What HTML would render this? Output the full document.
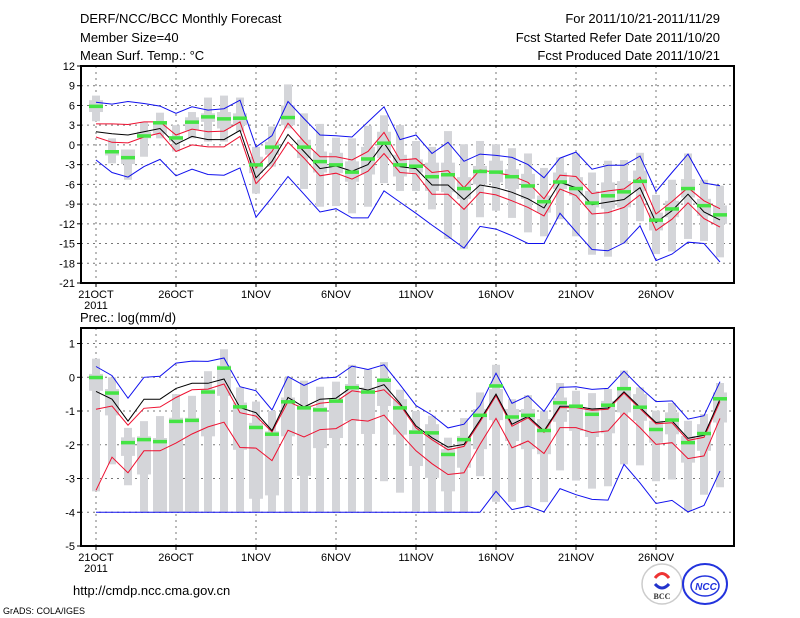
<!DOCTYPE html>
<html><head><meta charset="utf-8"><style>
html,body{margin:0;padding:0;background:#fff;}
svg{display:block;font-family:"Liberation Sans",sans-serif;}
</style></head><body>
<svg id="chart" width="800" height="618" viewBox="0 0 800 618" xmlns="http://www.w3.org/2000/svg">
<g font-size="13" fill="#000">
<text x="80" y="23">DERF/NCC/BCC Monthly Forecast</text>
<text x="80" y="42">Member Size=40</text>
<text x="80" y="60">Mean Surf. Temp.: °C</text>
<text x="720" y="23" text-anchor="end">For 2011/10/21-2011/11/29</text>
<text x="720" y="42" text-anchor="end">Fcst Started Refer Date 2011/10/20</text>
<text x="720" y="60" text-anchor="end">Fcst Produced Date 2011/10/21</text>
<text x="80" y="322">Prec.: log(mm/d)</text>
</g>
<g id="p1"></g>
<g id="p2"></g>
<text x="73" y="595" font-size="13">http://cmdp.ncc.cma.gov.cn</text>
<text x="3" y="614" font-size="9">GrADS: COLA/IGES</text>
<g>
<circle cx="662" cy="584" r="20" fill="#fff" stroke="#ccc" stroke-width="1.5"/>
<path d="M655 578 q7 -9 14 0" fill="none" stroke="#e33" stroke-width="3"/>
<path d="M655 584 q7 8 14 0" fill="none" stroke="#23c" stroke-width="3"/>
<text x="662" y="599" font-size="8" font-weight="bold" text-anchor="middle" fill="#333" font-family="Liberation Serif,serif">BCC</text>
</g>
<g>
<ellipse cx="705" cy="584" rx="22" ry="20" fill="#fff" stroke="#23d" stroke-width="2"/>
<ellipse cx="705" cy="586" rx="14" ry="10" fill="none" stroke="#23d" stroke-width="1.5"/>
<text x="706" y="590" font-size="10" font-weight="bold" font-style="italic" text-anchor="middle" fill="#23d">NCC</text>
</g>
</svg>
<script>
// ---- temperature data (40 days, 21OCT..29NOV)
const dayLabels=["21OCT","26OCT","1NOV","6NOV","11NOV","16NOV","21NOV","26NOV"];
const tBlueMax=[6.5,6.2,6.6,6.3,5.9,4.8,5.8,5.3,5.5,6.8,-0.3,1.4,6.6,4,1.5,1.4,1.2,3.5,5.8,0.8,1.5,-1.3,0.4,-2.5,-1.4,-1.6,-1.9,-3,-5,-2,-1.1,-3.7,-3.1,-3.1,-1.7,-7.1,-4.2,-1.4,-5.8,-6.2];
const tBlueMin=[-2.3,-4.2,-4.9,-3.3,-2.2,-4.7,-3.7,-4.5,-4.6,-3.5,-11,-8,-4.8,-7.5,-10.2,-9.7,-11.1,-11.1,-7,-8.7,-10.4,-12.2,-13.9,-15.7,-12.4,-12.8,-13.8,-15,-15,-10.4,-13.2,-15.9,-16.1,-14.9,-12.3,-17.6,-16.6,-14.8,-15,-17.8];
const tRedUp=[3.2,3.2,3.1,3.5,3.5,1.5,2.4,2.0,2.1,3.5,-3.5,-1,3.3,0.5,-1.8,-1.8,-2.3,-1,1.9,-2.3,-2.1,-4.2,-3.9,-6.5,-3.8,-4.2,-4.7,-5.7,-8.2,-4.6,-4.8,-7.4,-7,-6.7,-4.9,-10.5,-8.6,-6.5,-8.5,-9.7];
const tMean=[2.0,1.7,1.5,2.0,2.5,0.1,1.3,0.8,0.8,2.2,-5,-2.5,1.6,-1,-3.6,-3.2,-4,-3,0.3,-3.3,-3.6,-6.1,-6.1,-8.3,-6.1,-6.5,-7.2,-8.2,-9.6,-5.7,-6.5,-9.1,-8.7,-8.3,-6.5,-11.8,-10,-7.5,-10.2,-11.4];
const tRedLo=[1.2,0.4,0.3,1.2,1.8,-1,0,-0.3,-0.3,1.3,-5.9,-3.3,0.4,-2,-4.7,-4.3,-5.2,-4,-1.3,-4.2,-4.4,-7.5,-7.5,-9.8,-7.2,-7.6,-8.5,-9.5,-10.8,-6.7,-7.7,-10.5,-10.3,-9.5,-7.6,-13,-11.3,-8.8,-11.2,-12.5];
const tGreen=[5.9,-1,-1.9,1.4,3.4,1.1,3.5,4.3,4.0,4.1,-3,-0.3,4.2,-0.3,-2.5,-3,-4.1,-2.1,0.3,-3,-3.2,-4.8,-4.5,-6.6,-4,-4.1,-4.8,-6.2,-8.6,-5.6,-6.6,-8.8,-7.7,-7.1,-5.5,-11.4,-9.7,-6.6,-9.2,-10.6];
const tMax=[7.5,1.0,-0.7,3.5,4.9,3,5,7.2,7.5,7.2,-0.3,2.8,9.2,4.8,3.2,1.1,1.0,2.9,4.5,3,0.6,-0.3,2.1,0.1,0.6,0.1,-0.5,-1.3,-3.5,-1.9,-1.3,-4.2,-2.4,-2.3,-1.2,-7.6,-5.3,-1.3,-5.3,-6.2];
const tMin=[3.6,-2.8,-5.3,-1.8,1.0,-1,1,0.5,0.5,2,-7.4,-3.3,2.5,-6.7,-9.4,-9.3,-10.4,-9.4,-5.8,-7,-7,-9.8,-14.3,-15.8,-11,-10,-11.1,-13.3,-13.9,-11.3,-13.9,-16.7,-17,-15,-11.6,-16.6,-16.2,-14.3,-14.6,-17.1];
const tQ3=[6.8,-0.9,-0.7,2.0,3.5,1.3,4.2,4.8,5,4.8,-1.8,0.5,6,0.8,-1,-1.2,-2.5,-0.3,2,-1.5,-2.2,-2.7,-2.7,-4.9,-3.2,-2.4,-3.7,-4.4,-7.7,-4.2,-4.9,-7,-5.7,-5.5,-3.9,-10.3,-8.5,-5.2,-8.2,-9.2];
const tQ1=[5,-1.6,-2.9,1.0,1.7,0.5,2.2,3.5,2.5,3,-4.3,-1.5,3,-2,-4.2,-4.3,-5.6,-4.5,-2,-4.8,-4.2,-7,-7.2,-8.2,-6,-5.7,-6.7,-8.2,-10.3,-6.7,-7.7,-9.5,-9.7,-9.5,-7,-13,-11,-8,-10.8,-12];
const tTicks=[12,9,6,3,0,-3,-6,-9,-12,-15,-18,-21];
// ---- precipitation data
const pBlueMax=[0.32,0.05,-0.62,0,0.03,0.42,0.48,0.47,0.57,-0.28,-0.4,-0.97,0.02,-0.24,-0.03,0,0.33,0.23,0.37,-0.22,-0.84,-1.12,-1.5,-1.39,-0.84,0.12,-0.77,-0.55,-1.01,-0.3,-0.28,-0.36,-0.33,0.18,-0.3,-0.72,-0.7,-1.24,-1.14,-0.13];
const pBlueMin=[-4,-4,-4,-4,-4,-4,-4,-4,-4,-4,-4,-4,-4,-4,-4,-4,-4,-4,-4,-4,-4,-4,-4,-4,-4,-3.38,-3.92,-3.82,-3.99,-3.3,-3.48,-3.62,-3.64,-2.58,-3.13,-3.74,-3.65,-3.99,-3.8,-2.78];
const pRedUp=[-0.95,-0.85,-1.42,-0.92,-0.88,-0.6,-0.37,-0.35,-0.2,-1.05,-1.15,-1.62,-0.72,-0.93,-0.77,-0.72,-0.4,-0.47,-0.37,-0.82,-1.5,-1.85,-2.15,-2.05,-1.32,-0.55,-1.45,-1.2,-1.63,-0.9,-0.9,-0.98,-0.95,-0.47,-0.93,-1.38,-1.35,-1.87,-1.78,-0.72];
const pMean=[-0.42,-0.65,-1.3,-0.65,-0.65,-0.33,-0.18,-0.18,-0.05,-0.9,-1.05,-1.58,-0.6,-0.88,-0.65,-0.62,-0.28,-0.38,-0.22,-0.77,-1.44,-1.79,-2.07,-1.99,-1.27,-0.5,-1.39,-1.16,-1.59,-0.86,-0.86,-0.94,-0.91,-0.43,-0.89,-1.34,-1.29,-1.81,-1.72,-0.65];
const pRedLo=[-3.35,-2.37,-2.83,-2.18,-2.18,-1.95,-1.68,-1.47,-1.33,-2.08,-2.1,-2.47,-1.57,-1.77,-1.55,-1.52,-1.25,-1.3,-1.12,-1.66,-2.18,-2.56,-2.88,-2.83,-1.99,-1.22,-2.09,-1.89,-2.26,-1.49,-1.49,-1.64,-1.59,-1.06,-1.49,-1.99,-1.94,-2.41,-2.33,-1.22];
const pGreen=[0,-0.46,-1.93,-1.84,-1.9,-1.3,-1.27,-0.43,0.28,-0.87,-1.48,-1.68,-0.72,-0.9,-0.96,-0.7,-0.3,-0.43,-0.08,-0.9,-1.62,-1.64,-2.28,-1.84,-1.12,-0.25,-1.17,-1.12,-1.57,-0.75,-0.85,-1.09,-0.82,-0.33,-0.88,-1.54,-1.26,-1.93,-1.66,-0.63];
const pMax=[0.55,0,-1.5,-1.3,-1.15,-0.5,-0.55,0.18,0.83,-0.3,-0.72,-1.0,0,-0.1,-0.28,-0.13,0.37,0.23,0.45,-0.37,-1.0,-1.14,-1.79,-1.21,-0.45,0.37,-0.65,-0.53,-0.99,-0.17,-0.4,-0.47,-0.35,0.2,-0.3,-0.99,-0.76,-1.29,-1.09,-0.17];
const pMin=[-3.38,-2.58,-3.2,-4,-4,-4,-4,-4,-4,-4,-4,-4,-4,-4,-4,-4,-4,-4,-3.08,-3.42,-3.97,-4,-4,-4,-2.93,-3.69,-3.69,-3.82,-3.7,-2.76,-3.06,-3.3,-3.23,-2.58,-2.61,-3.08,-3.03,-3.97,-3.48,-3.26];
const pQ3=[0.1,-0.35,-1.78,-1.75,-1.8,-1.2,-1.2,-0.35,0.35,-0.75,-1.35,-1.6,-0.6,-0.82,-0.88,-0.62,-0.2,-0.3,-0.05,-0.65,-1.56,-1.39,-2.13,-1.74,-0.94,-0.35,-0.94,-0.94,-1.24,-0.6,-0.89,-0.94,-0.7,-0.35,-0.5,-1.29,-1.04,-1.74,-1.39,-0.45];
const pQ1=[-0.4,-1.13,-2.33,-2.88,-4,-4,-4,-1.75,-0.55,-2.15,-3.6,-3.5,-1.75,-2.92,-2.1,-1.8,-1.3,-1.68,-0.85,-1.7,-2.63,-2.98,-3.38,-2.68,-2.13,-1.27,-1.89,-2.13,-2.28,-1.32,-1.59,-1.77,-1.66,-1.04,-1.29,-1.94,-1.69,-2.53,-2.18,-1.34];
const pTicks=[1,0,-1,-2,-3,-4,-5];

const NS="http://www.w3.org/2000/svg";
function mk(parent,tag,attrs){const e=document.createElementNS(NS,tag);for(const k in attrs)e.setAttribute(k,attrs[k]);parent.appendChild(e);return e;}
const X0=81,X1=734;
function xDay(i){return 96+16*i;}

function panel(g,top,bot,vmax,vmin,ticks,S){
  const y=v=>top+(vmax-v)/(vmax-vmin)*(bot-top);
  // grid
  ticks.forEach(t=>{
    if(t<vmax&&t>vmin){const l=mk(g,'line',{x1:X0,x2:X1,y1:y(t),y2:y(t),stroke:'#777','stroke-width':1,'stroke-dasharray':'2,4'});
    
    }
    const tx=mk(g,'text',{x:75,y:y(t)+4,'font-size':11,'text-anchor':'end'});tx.textContent=t;
    
    
    mk(g,'line',{x1:X0-4,x2:X0,y1:y(t),y2:y(t),stroke:'#000'});
  });
  dayLabels.forEach((d,k)=>{
    const xx=xDay(k*5);
    const l=mk(g,'line',{x1:xx,x2:xx,y1:top,y2:bot,stroke:'#777','stroke-width':1,'stroke-dasharray':'2,4'});
    
    
    mk(g,'line',{x1:xx,x2:xx,y1:bot,y2:bot+4,stroke:'#000'});
    const tx=mk(g,'text',{x:xx,y:bot+15,'font-size':11,'text-anchor':'middle'});tx.textContent=d;
    
    
  });
  const yr=mk(g,'text',{x:96,y:bot+26,'font-size':11,'text-anchor':'middle'});yr.textContent='2011';
  
  
  // boxes
  for(let i=0;i<40;i++){
    const xx=xDay(i);
    const w=mk(g,'rect',{x:xx-4,y:y(S.max[i]),width:8,height:Math.max(1,y(S.min[i])-y(S.max[i])),fill:'#d4d5d9'});
    
    
    const b=mk(g,'rect',{x:xx-7,y:y(S.q3[i]),width:14,height:Math.max(1,y(S.q1[i])-y(S.q3[i])),fill:'#d4d5d9'});
    
    
  }
  const line=(arr,col,name)=>{
    const p=mk(g,'polyline',{points:arr.map((v,i)=>xDay(i)+','+y(v).toFixed(1)).join(' '),fill:'none',stroke:col,'stroke-width':1});
    
    
  };
  line(S.bmax,'#1010ee','max-line');line(S.bmin,'#1010ee','min-line');
  line(S.rup,'#ee1030','upper-line');line(S.rlo,'#ee1030','lower-line');
  line(S.mean,'#000','mean-line');
  for(let i=0;i<40;i++){
    const r=mk(g,'rect',{x:xDay(i)-7,y:y(S.green[i])-1.5,width:14,height:3.5,fill:'#44e444'});
    
    
  }
  const f=mk(g,'rect',{x:X0,y:top,width:X1-X0,height:bot-top,fill:'none',stroke:'#000','stroke-width':2});
  
  
}
panel(document.getElementById('p1'),66,283,12,-21,tTicks,{bmax:tBlueMax,bmin:tBlueMin,rup:tRedUp,rlo:tRedLo,mean:tMean,green:tGreen,max:tMax,min:tMin,q3:tQ3,q1:tQ1});
panel(document.getElementById('p2'),328,546,1.46,-5,pTicks,{bmax:pBlueMax,bmin:pBlueMin,rup:pRedUp,rlo:pRedLo,mean:pMean,green:pGreen,max:pMax,min:pMin,q3:pQ3,q1:pQ1});
</script>
</body></html>
